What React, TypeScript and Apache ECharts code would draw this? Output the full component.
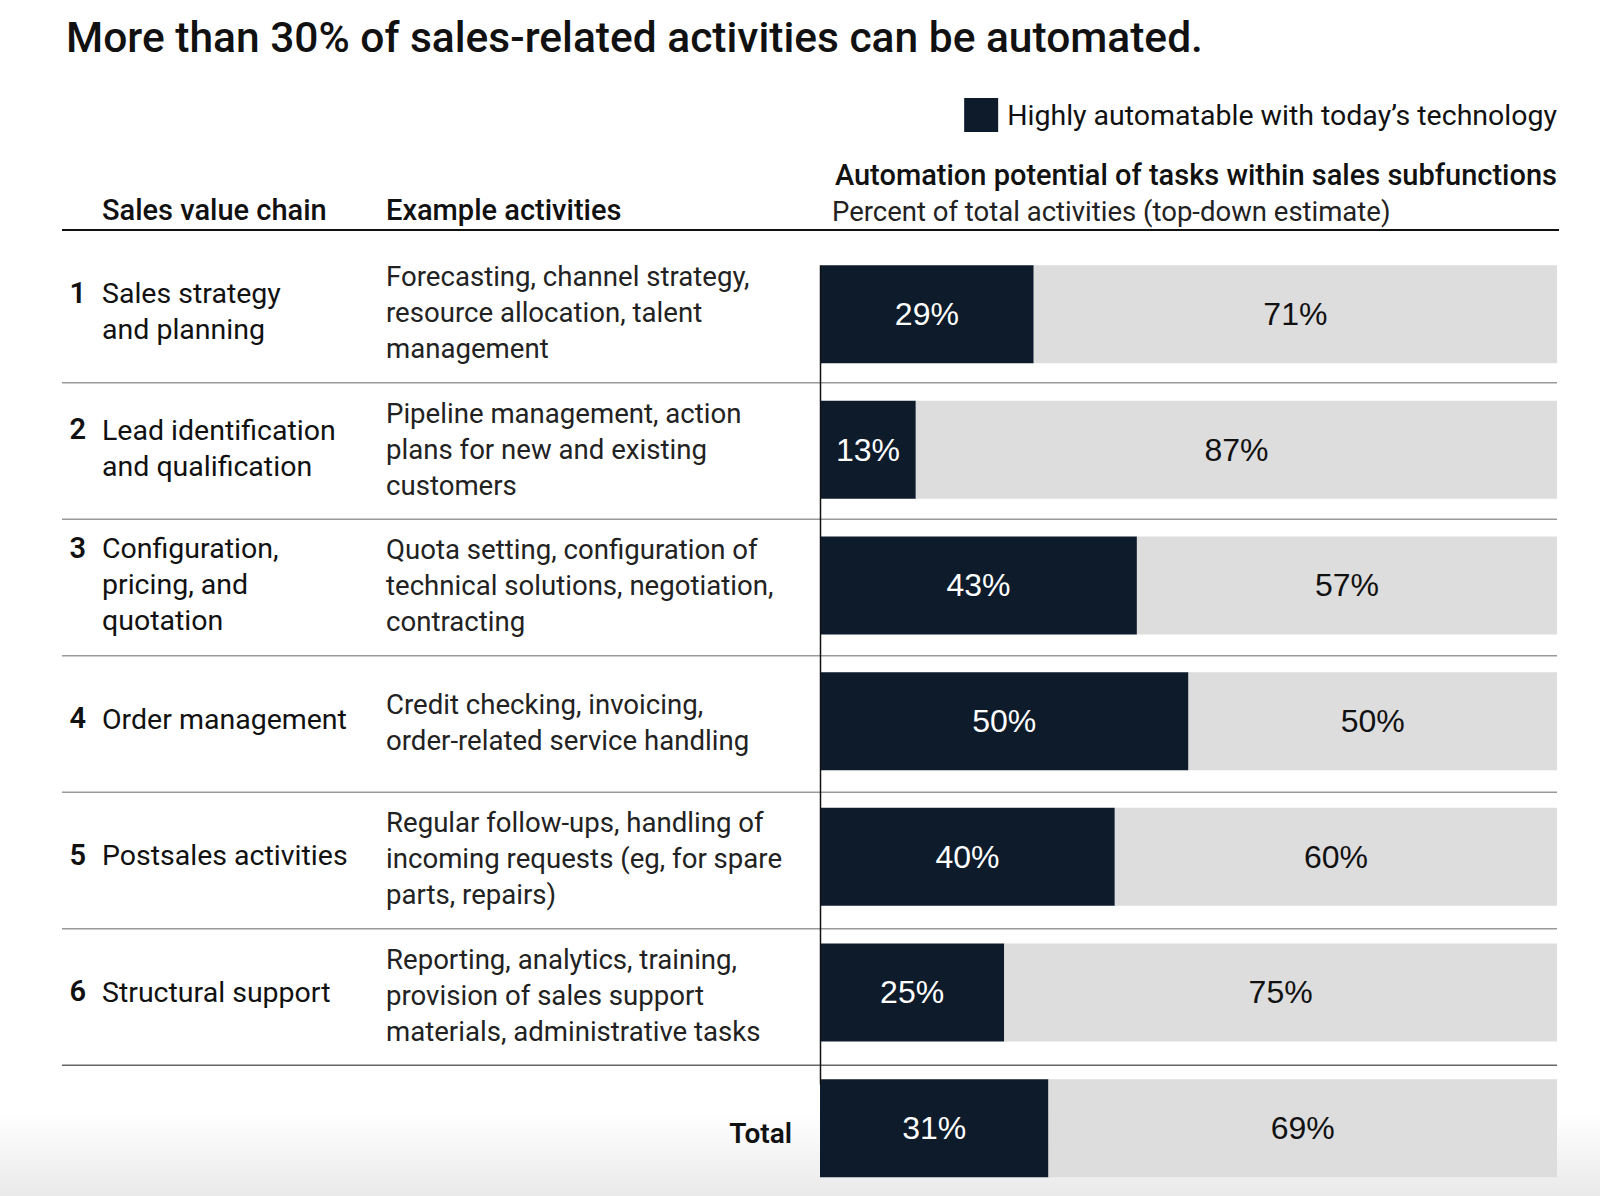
import React, { useEffect, useRef } from "react";
import * as echarts from "echarts";

const chartTitle = "More than 30% of sales-related activities can be automated.";
const legendLabel = "Highly automatable with today’s technology";
const otherLabel = "Other activities";
const panelTitle = "Automation potential of tasks within sales subfunctions";
const panelSubtitle = "Percent of total activities (top-down estimate)";
const columnHeaders = ["Sales value chain", "Example activities"];
const stageNumbers = ["1", "2", "3", "4", "5", "6", ""];
const stageNames = [
  "Sales strategy\nand planning",
  "Lead identification\nand qualification",
  "Configuration,\npricing, and\nquotation",
  "Order management",
  "Postsales activities",
  "Structural support",
  "Total",
];
const exampleActivities = [
  "Forecasting, channel strategy,\nresource allocation, talent\nmanagement",
  "Pipeline management, action\nplans for new and existing\ncustomers",
  "Quota setting, configuration of\ntechnical solutions, negotiation,\ncontracting",
  "Credit checking, invoicing,\norder-related service handling",
  "Regular follow-ups, handling of\nincoming requests (eg, for spare\nparts, repairs)",
  "Reporting, analytics, training,\nprovision of sales support\nmaterials, administrative tasks",
  "",
];
const automatable = [29, 13, 43, 50, 40, 25, 31];
const remaining = [71, 87, 57, 50, 60, 75, 69];

const FONT = "Roboto, 'Liberation Sans', Arial, sans-serif";
const LABEL_FONT = "'Liberation Sans', Arial, Helvetica, sans-serif";
const DARK = "#0d1b2b";
const LIGHT = "#dddddd";

const W = 1600;
const H = 1196;
const GRID_LEFT = 820;
const GRID_RIGHT_EDGE = 1557;
const GRID_TOP = 246.3;
const BAND = 136.5;
const BAR_W = 98;
const LINE_H = 36;

export default function App() {
  const ref = useRef<HTMLDivElement>(null);

  useEffect(() => {
    if (!ref.current) return;
    const chart = echarts.init(ref.current, undefined, { renderer: "svg" });
    const n = stageNames.length;
    const rowCenter = (i: number) => GRID_TOP + (i + 0.5) * BAND;

    const graphics: any[] = [];
    graphics.push({
      type: "rect",
      z: -10,
      shape: { x: 0, y: 1110, width: W, height: H - 1110 },
      style: {
        fill: new echarts.graphic.LinearGradient(0, 0, 0, 1, [
          { offset: 0, color: "rgba(236,236,236,0)" },
          { offset: 1, color: "rgba(233,233,233,1)" },
        ]),
      },
      silent: true,
    });
    graphics.push({
      type: "text",
      x: 66,
      y: 37,
      style: { text: chartTitle, fontSize: 42.5, fontWeight: 500, fontFamily: FONT, fill: "#111", align: "left", verticalAlign: "middle" },
    });
    graphics.push({
      type: "text",
      x: GRID_RIGHT_EDGE,
      y: 175,
      style: { text: panelTitle, fontSize: 29, fontWeight: 500, fontFamily: FONT, fill: "#111", align: "right", verticalAlign: "middle" },
    });
    graphics.push({
      type: "text",
      x: 832,
      y: 211,
      style: { text: panelSubtitle, fontSize: 27.5, fontFamily: FONT, fill: "#222", align: "left", verticalAlign: "middle" },
    });
    graphics.push({
      type: "text",
      x: 102,
      y: 210,
      style: { text: columnHeaders[0], fontSize: 29, fontWeight: 500, fontFamily: FONT, fill: "#111", align: "left", verticalAlign: "middle" },
    });
    graphics.push({
      type: "text",
      x: 386,
      y: 210,
      style: { text: columnHeaders[1], fontSize: 29, fontWeight: 500, fontFamily: FONT, fill: "#111", align: "left", verticalAlign: "middle" },
    });
    graphics.push({
      type: "line",
      shape: { x1: 62, y1: 230, x2: 1559, y2: 230 },
      style: { stroke: "#111", lineWidth: 2 },
    });

    for (let i = 0; i < n; i++) {
      const isTotal = stageNumbers[i] === "";
      const lines = stageNames[i].split("\n").length;
      const c = rowCenter(i) + (lines === 1 ? -5 : -3);
      if (!isTotal) {
        graphics.push({
          type: "text",
          x: 102,
          y: c,
          style: { text: stageNames[i], fontSize: 28.5, lineHeight: LINE_H, fontFamily: FONT, fill: "#111", align: "left", verticalAlign: "middle" },
        });
        graphics.push({
          type: "text",
          x: 86,
          y: c - ((lines - 1) * LINE_H) / 2 - 1,
          style: { text: stageNumbers[i], fontSize: 29, fontWeight: 600, fontFamily: FONT, fill: "#111", align: "right", verticalAlign: "middle" },
        });
        graphics.push({
          type: "text",
          x: 386,
          y: rowCenter(i) - 2,
          style: { text: exampleActivities[i], fontSize: 27.6, lineHeight: LINE_H, fontFamily: FONT, fill: "#222", align: "left", verticalAlign: "middle" },
        });
      } else {
        graphics.push({
          type: "text",
          x: 792,
          y: rowCenter(i),
          style: { text: stageNames[i], fontSize: 28, fontWeight: 600, fontFamily: FONT, fill: "#111", align: "right", verticalAlign: "middle" },
        });
      }
      if (i < n - 1) {
        const y = GRID_TOP + (i + 1) * BAND;
        graphics.push({
          type: "line",
          z: -1,
          shape: { x1: 62, y1: y, x2: GRID_RIGHT_EDGE, y2: y },
          style: { stroke: i === n - 2 ? "#666" : "#9a9a9a", lineWidth: 1.5 },
        });
      }
    }
    graphics.push({
      type: "line",
      z: 5,
      shape: { x1: GRID_LEFT + 0.5, y1: rowCenter(0) - BAR_W / 2, x2: GRID_LEFT + 0.5, y2: rowCenter(n - 1) - BAR_W / 2 },
      style: { stroke: "#111", lineWidth: 1.5 },
    });

    chart.setOption({
      animation: false,
      backgroundColor: "#ffffff",
      textStyle: { fontFamily: FONT },
      legend: {
        data: [legendLabel],
        right: W - GRID_RIGHT_EDGE,
        top: 98,
        itemWidth: 34,
        itemHeight: 34,
        icon: "rect",
        itemGap: 0,
        padding: 0,
        textStyle: { fontSize: 28.5, color: "#111", fontFamily: FONT, padding: [0, 0, 0, 4] },
        selectedMode: false,
      },
      grid: {
        left: GRID_LEFT,
        right: W - GRID_RIGHT_EDGE,
        top: GRID_TOP,
        height: BAND * n,
        containLabel: false,
      },
      xAxis: {
        type: "value",
        min: 0,
        max: 100,
        show: false,
      },
      yAxis: {
        type: "category",
        data: stageNames,
        inverse: true,
        show: false,
      },
      series: [
        {
          name: legendLabel,
          type: "bar",
          stack: "total",
          data: automatable,
          barWidth: BAR_W,
          itemStyle: { color: DARK },
          label: {
            show: true,
            position: "inside",
            formatter: "{c}%",
            color: "#ffffff",
            fontSize: 32,
            fontFamily: LABEL_FONT,
          },
        },
        {
          name: otherLabel,
          type: "bar",
          stack: "total",
          data: remaining,
          barWidth: BAR_W,
          itemStyle: { color: LIGHT },
          label: {
            show: true,
            position: "inside",
            formatter: "{c}%",
            color: "#111111",
            fontSize: 32,
            fontFamily: LABEL_FONT,
          },
        },
      ],
      graphic: graphics,
    });

    return () => chart.dispose();
  }, []);

  return (
    <div
      ref={ref}
      style={{ position: "absolute", left: 0, top: 0, width: W, height: H }}
    />
  );
}
